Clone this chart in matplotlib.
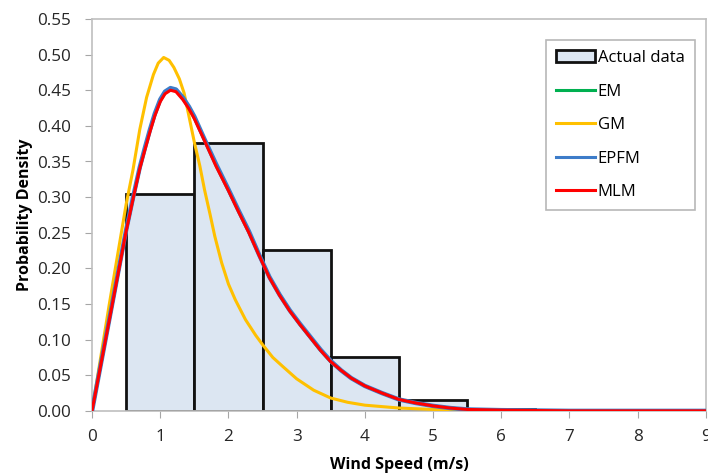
import numpy as np
import matplotlib
matplotlib.use('Agg')
import matplotlib.pyplot as plt
from matplotlib.patches import Patch
from matplotlib.lines import Line2D

plt.rcParams['font.family'] = ['Open Sans', 'DejaVu Sans']

# histogram of measured wind speed (bin centres, width 1 m/s)
bin_centres = [1, 2, 3, 4, 5, 6]
actual_density = [0.304, 0.376, 0.226, 0.076, 0.015, 0.002]

# fitted curves
fit_x = [0, 0.25, 0.5, 0.6, 0.7, 0.78, 0.85, 0.92, 1.0, 1.07, 1.15, 1.23, 1.33, 1.42,
         1.5, 1.65, 1.82, 2.0, 2.15, 2.3, 2.45, 2.6, 2.75, 2.9, 3.05, 3.2, 3.35, 3.5,
         3.65, 3.8, 4.0, 4.25, 4.5, 4.75, 5.0, 5.25, 5.5, 6.0, 7, 8, 9]
mlm_y = [0, 0.126, 0.252, 0.297, 0.34, 0.368, 0.392, 0.414, 0.434, 0.445, 0.450, 0.448,
         0.437, 0.424, 0.410, 0.379, 0.343, 0.309, 0.279, 0.250, 0.218, 0.187, 0.162,
         0.140, 0.121, 0.103, 0.085, 0.069, 0.057, 0.046, 0.035, 0.025, 0.016, 0.011,
         0.007, 0.004, 0.002, 0.001, 0, 0, 0]
epfm_y = [0, 0.127, 0.254, 0.299, 0.342, 0.371, 0.395, 0.417, 0.437, 0.448, 0.453,
          0.451, 0.440, 0.427, 0.413, 0.381, 0.346, 0.311, 0.281, 0.252, 0.219, 0.188,
          0.163, 0.141, 0.122, 0.104, 0.086, 0.070, 0.057, 0.046, 0.035, 0.025, 0.016,
          0.011, 0.007, 0.004, 0.002, 0.001, 0, 0, 0]
em_y = [0, 0.127, 0.253, 0.298, 0.341, 0.370, 0.394, 0.416, 0.436, 0.447, 0.452, 0.450,
        0.439, 0.426, 0.412, 0.380, 0.345, 0.310, 0.280, 0.251, 0.219, 0.188, 0.163,
        0.141, 0.121, 0.103, 0.085, 0.069, 0.057, 0.046, 0.035, 0.025, 0.016, 0.011,
        0.007, 0.004, 0.002, 0.001, 0, 0, 0]

gm_x = [0, 0.25, 0.5, 0.6, 0.7, 0.8, 0.9, 0.97, 1.05, 1.13, 1.2, 1.28, 1.35, 1.42, 1.5,
        1.58, 1.65, 1.73, 1.8, 1.9, 2.0, 2.1, 2.25, 2.4, 2.5, 2.65, 2.8, 3.0, 3.25, 3.5,
        3.75, 4.0, 4.5, 5.0, 5.5, 6, 9]
gm_y = [0, 0.148, 0.29, 0.338, 0.395, 0.44, 0.472, 0.488, 0.496, 0.492, 0.482, 0.466,
        0.446, 0.414, 0.377, 0.344, 0.310, 0.276, 0.245, 0.208, 0.178, 0.156, 0.128,
        0.106, 0.093, 0.075, 0.062, 0.045, 0.029, 0.018, 0.012, 0.008, 0.004, 0.002,
        0.001, 0, 0]

fig = plt.figure(figsize=(7.08, 4.75), dpi=100)
ax = fig.add_axes([0.130, 0.135, 0.867, 0.825])

ax.bar(bin_centres, actual_density, width=1.0, color='#DCE6F2', edgecolor='#111111',
       linewidth=2, zorder=2)
ax.plot(fit_x, em_y, color='#00B050', lw=2.2, zorder=3)
ax.plot(gm_x, gm_y, color='#FFC000', lw=2.2, zorder=4)
ax.plot(fit_x, epfm_y, color='#3D7CC9', lw=3.2, zorder=5)
ax.plot(fit_x, mlm_y, color='#FF0000', lw=2.2, zorder=6)

ax.set_xlim(0, 9)
ax.set_ylim(0, 0.55)
ax.set_xticks(range(0, 10))
ax.set_yticks(np.arange(0, 0.551, 0.05))
ax.set_yticklabels(['%.2f' % v for v in np.arange(0, 0.551, 0.05)])
for s in ax.spines.values():
    s.set_color('#BFBFBF')
    s.set_linewidth(1.2)
ax.tick_params(direction='out', length=5, color='#A6A6A6', labelsize=12.3,
               labelcolor='#262626')
ax.tick_params(axis='x', pad=8)
ax.tick_params(axis='y', pad=10)
ax.set_xlabel('Wind Speed (m/s)', fontsize=11.5, fontweight='bold', labelpad=9)
ax.set_ylabel('Probability Density', fontsize=11.5, fontweight='bold', labelpad=3)

handles = [Patch(facecolor='#DCE6F2', edgecolor='#111111', linewidth=2),
           Line2D([], [], color='#00B050', lw=2.2),
           Line2D([], [], color='#FFC000', lw=2.2),
           Line2D([], [], color='#3D7CC9', lw=2.2),
           Line2D([], [], color='#FF0000', lw=2.2)]
labels = ['Actual data', 'EM', 'GM', 'EPFM', 'MLM']
leg = fig.legend(handles, labels, loc='upper right', bbox_to_anchor=(0.993, 0.933),
                 fontsize=12, frameon=True, fancybox=False, labelspacing=1.05,
                 handlelength=2.3, handletextpad=0.2, borderpad=0.6)
leg.get_frame().set_edgecolor('#A6A6A6')
leg.get_frame().set_linewidth(1.2)

plt.savefig('out.png', dpi=100)
